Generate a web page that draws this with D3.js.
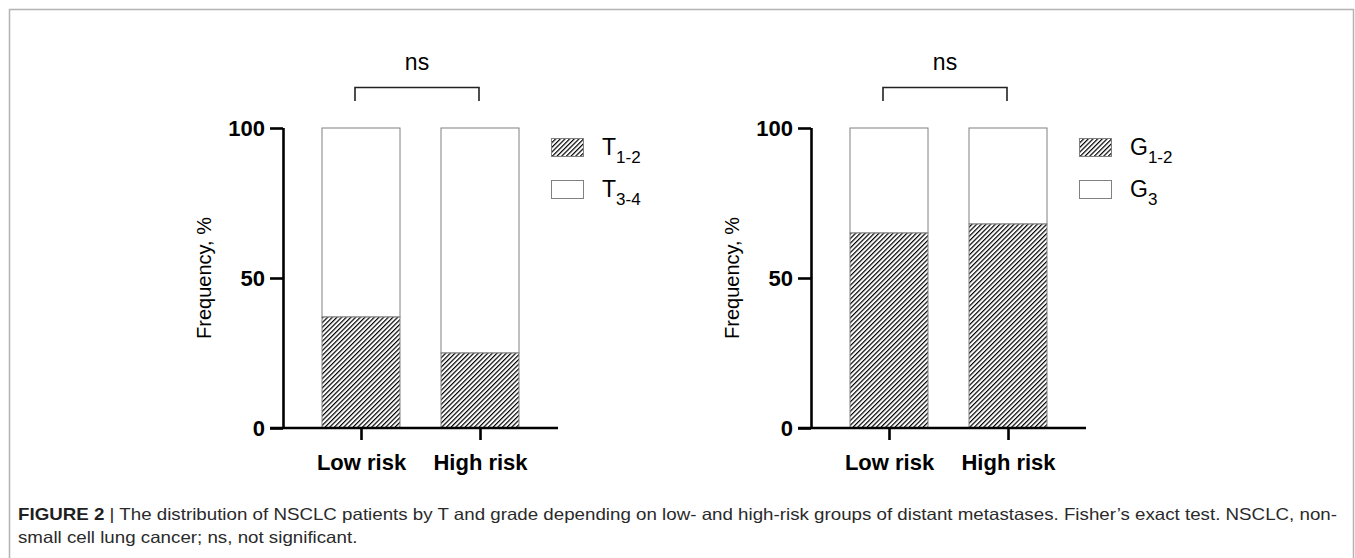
<!DOCTYPE html>
<html>
<head>
<meta charset="utf-8">
<script src="https://cdn.jsdelivr.net/npm/d3@7"></script>
<style>
  html, body { margin: 0; padding: 0; background: #fff; }
  svg { display: block; }
</style>
</head>
<body>
<svg id="chart" width="1355" height="558"></svg>
<script>
// ---- Data ----
const categories = ["Low risk", "High risk"];
const tLegend = [["T", "1-2"], ["T", "3-4"]];
const gLegend = [["G", "1-2"], ["G", "3"]];
const t12Values = [37, 25];   // % T1-2 (hatched)
const g12Values = [65, 68];   // % G1-2 (hatched)
const yTicks = [0, 50, 100];
const sigLabel = "ns";
const yLabel = "Frequency, %";
const captionBold = "FIGURE 2";
const captionLine1 = " | The distribution of NSCLC patients by T and grade depending on low- and high-risk groups of distant metastases. Fisher\u2019s exact test. NSCLC, non-";
const captionLine2 = "small cell lung cancer; ns, not significant.";

const svg = d3.select("#chart");
const font = "'Liberation Sans', Arial, Helvetica, sans-serif";

// hatch pattern
const defs = svg.append("defs");
const pat = defs.append("pattern")
  .attr("id", "hatch")
  .attr("patternUnits", "userSpaceOnUse")
  .attr("width", 3.3).attr("height", 3.3)
  .attr("patternTransform", "rotate(45)");
pat.append("rect").attr("width", 3.3).attr("height", 3.3).attr("fill", "#fff");
pat.append("line").attr("x1", 0.6).attr("y1", 0).attr("x2", 0.6).attr("y2", 3.3)
  .attr("stroke", "#000").attr("stroke-width", 1.2);

// border frame
svg.append("rect")
  .attr("x", 9.5).attr("y", 9.5).attr("width", 1344).attr("height", 600)
  .attr("fill", "none").attr("stroke", "#b3b3b3").attr("stroke-width", 1.5);

const y = d3.scaleLinear().domain([0, 100]).range([428, 128]);

function panel(offset, values, legend) {
  const g = svg.append("g").attr("transform", `translate(${offset},0)`);
  const x = d3.scalePoint().domain(categories).range([361, 480]);
  const barW = 78;

  // white (upper) segments
  g.selectAll("rect.top").data(categories).enter().append("rect")
    .attr("x", d => x(d) - barW / 2)
    .attr("y", y(100))
    .attr("width", barW)
    .attr("height", (d, i) => y(values[i]) - y(100))
    .attr("fill", "#fff").attr("stroke", "#808080").attr("stroke-width", 1);

  // hatched (lower) segments
  g.selectAll("rect.bot").data(categories).enter().append("rect")
    .attr("x", d => x(d) - barW / 2)
    .attr("y", (d, i) => y(values[i]))
    .attr("width", barW)
    .attr("height", (d, i) => y(0) - y(values[i]))
    .attr("fill", "url(#hatch)").attr("stroke", "#808080").attr("stroke-width", 1);

  // y axis
  const yAxis = g.append("g").attr("transform", "translate(283,0)")
    .call(d3.axisLeft(y).tickValues(yTicks).tickSize(13).tickSizeOuter(0).tickPadding(5));
  yAxis.select(".domain").attr("stroke", "#000").attr("stroke-width", 2.6).attr("d", `M0.5,${y(100)}V${y(0)}`);
  yAxis.selectAll(".tick line").attr("stroke", "#000").attr("stroke-width", 2.6);
  yAxis.selectAll(".tick text").attr("font-family", font).attr("font-size", 22)
    .attr("font-weight", "bold").attr("fill", "#000").attr("dy", "0.36em");

  // x axis
  const xAxis = g.append("g").attr("transform", `translate(0,${y(0)})`)
    .call(d3.axisBottom(x).tickSize(12).tickSizeOuter(0).tickPadding(14));
  xAxis.select(".domain").attr("d", "M270,0H558").attr("stroke", "#000").attr("stroke-width", 2.6);
  xAxis.selectAll(".tick line").attr("stroke", "#000").attr("stroke-width", 2.6);
  xAxis.selectAll(".tick text").attr("font-family", font).attr("font-size", 22)
    .attr("font-weight", "bold").attr("fill", "#000");

  // y label
  g.append("text")
    .attr("transform", `translate(211,${y(50)}) rotate(-90)`)
    .attr("text-anchor", "middle")
    .attr("font-family", font).attr("font-size", 20).attr("fill", "#000")
    .text(yLabel);

  // significance bracket
  const bx1 = x(categories[0]) - 6, bx2 = x(categories[1]) - 1;
  g.append("path")
    .attr("d", `M${bx1},101V87.5H${bx2}V101`)
    .attr("fill", "none").attr("stroke", "#222").attr("stroke-width", 1.6);
  g.append("text")
    .attr("x", (bx1 + bx2) / 2).attr("y", 70)
    .attr("text-anchor", "middle")
    .attr("font-family", font).attr("font-size", 23).attr("fill", "#000")
    .text(sigLabel);

  // legend
  const lg = g.selectAll("g.leg").data(legend).enter().append("g")
    .attr("transform", (d, i) => `translate(551,${138 + i * 42})`);
  lg.append("rect").attr("x", 0.5).attr("y", 0.5).attr("width", 32).attr("height", 18)
    .attr("fill", (d, i) => i === 0 ? "url(#hatch)" : "#fff")
    .attr("stroke", "#808080").attr("stroke-width", 1);
  const lt = lg.append("text").attr("x", 51).attr("y", 17)
    .attr("font-family", font).attr("font-size", 23).attr("fill", "#000");
  lt.append("tspan").text(d => d[0]);
  lt.append("tspan").attr("dy", 8).attr("font-size", 17).text(d => d[1]);
}

panel(0, t12Values, tLegend);
panel(528, g12Values, gLegend);

// caption
const cap = svg.append("g");
const l1 = cap.append("text").attr("x", 18).attr("y", 520)
  .attr("font-family", font).attr("font-size", 16.5).attr("fill", "#2a2a2a");
l1.append("tspan").attr("font-weight", "bold").attr("fill", "#1f1f1f").text(captionBold);
l1.append("tspan").text(captionLine1);
const n1 = l1.node().getComputedTextLength();
const ratio = 1319 / n1;
l1.attr("textLength", 1319).attr("lengthAdjust", "spacingAndGlyphs");

const l2 = cap.append("text").attr("x", 18).attr("y", 543)
  .attr("font-family", font).attr("font-size", 16.5).attr("fill", "#2a2a2a")
  .text(captionLine2);
const n2 = l2.node().getComputedTextLength();
l2.attr("textLength", n2 * ratio).attr("lengthAdjust", "spacingAndGlyphs");
</script>
</body>
</html>
